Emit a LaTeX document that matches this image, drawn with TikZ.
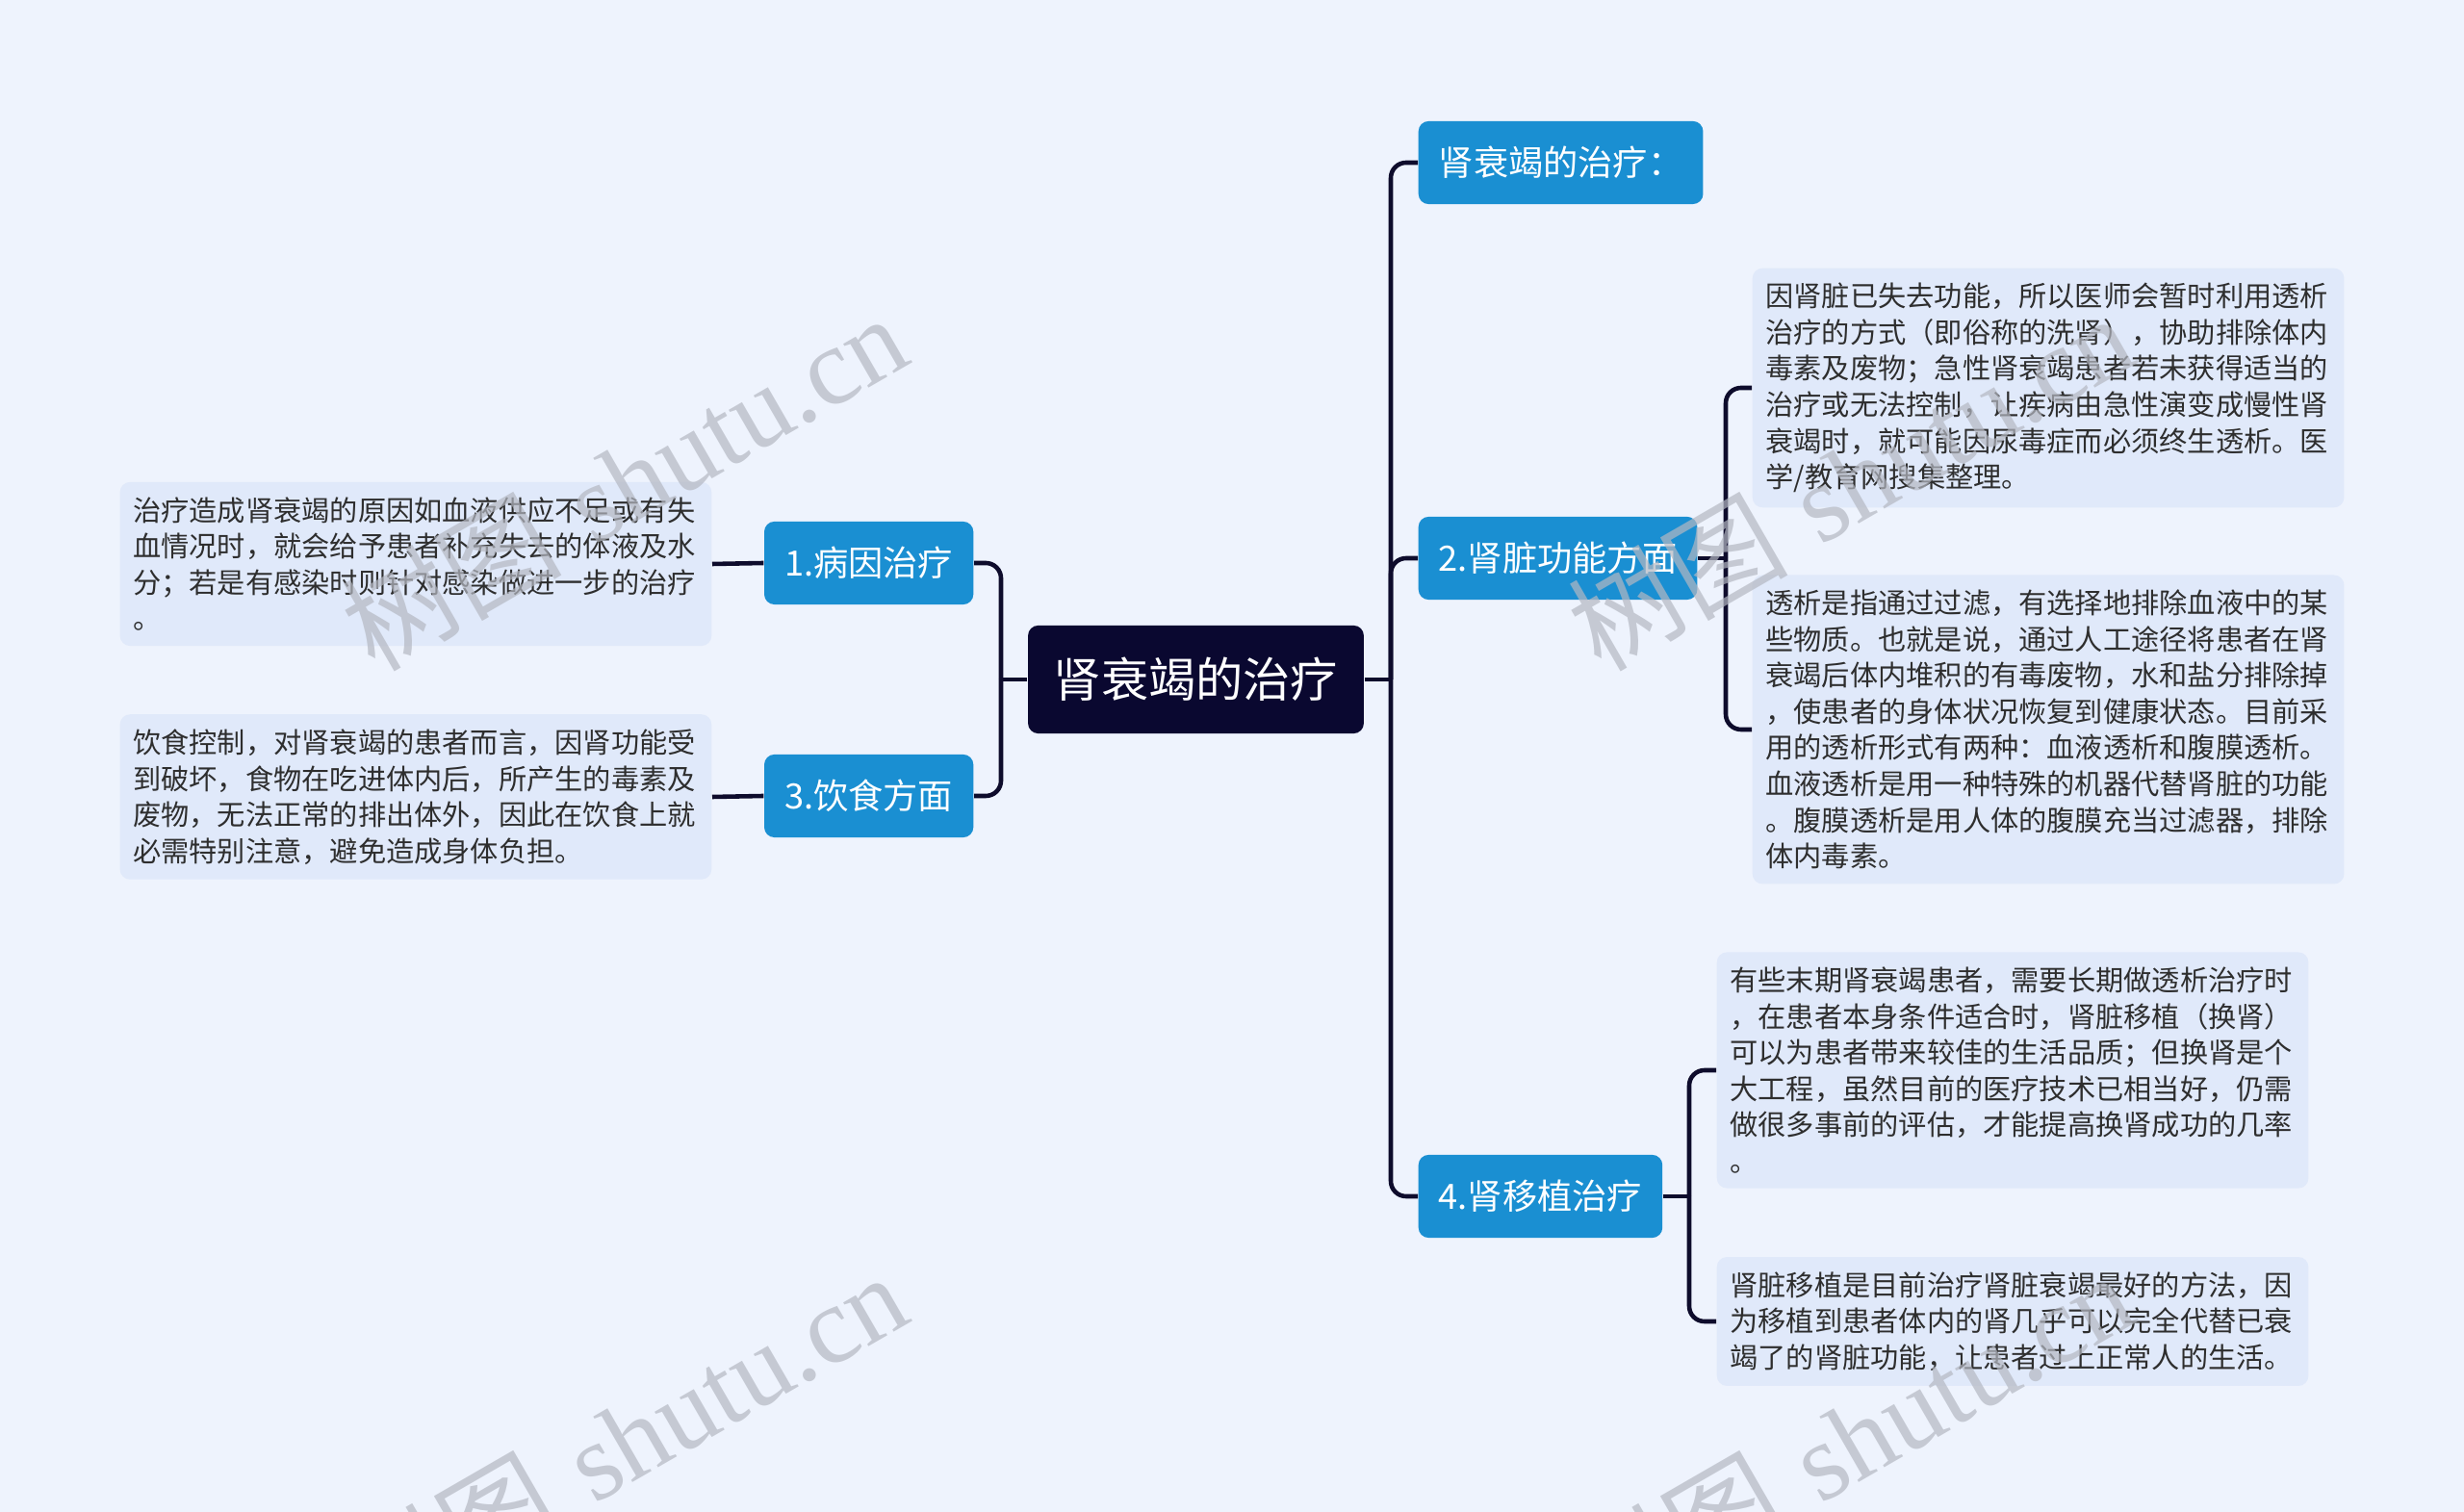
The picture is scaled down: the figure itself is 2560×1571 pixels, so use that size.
\documentclass[tikz,border=0pt]{standalone}
\usepackage{fontspec}
\newfontfamily\cjk{Noto Sans CJK SC}
\newfontfamily\wmlatin{Liberation Serif}
\definecolor{bgcol}{HTML}{EEF3FD}
\definecolor{leafcol}{HTML}{E0E9FA}
\definecolor{leaftext}{HTML}{2E2E2E}
\definecolor{topiccol}{HTML}{1A8FD2}
\definecolor{rootcol}{HTML}{0A0830}
\definecolor{linecol}{HTML}{0E0C2C}
\definecolor{wmcol}{HTML}{B4B8C2}

\tikzset{
  link/.style={draw=linecol, line width=1.3pt, rounded corners=4.5pt},
  rootbox/.style={fill=rootcol, text=white, rounded corners=3pt, inner xsep=7.6pt,
                  minimum height=31.9pt, font=\cjk\fontsize{14pt}{16pt}\selectfont},
  topic/.style={fill=topiccol, text=white, rounded corners=3pt, inner xsep=6pt,
                minimum height=24.5pt, font=\cjk\fontsize{10.3pt}{12pt}\selectfont},
  leaf/.style={fill=leafcol, text=leaftext, rounded corners=3pt, align=left,
               text width=167pt, inner xsep=3.9pt, inner ysep=4.4pt,
               font=\cjk\fontsize{8.31pt}{10.68pt}\selectfont},
  wmtext/.style={text=wmcol, opacity=0.7, rotate=30, font=\fontsize{32.5pt}{34pt}\selectfont}
}

\begin{document}
\begin{tikzpicture}[x=0.01cm, y=-0.01cm]
  % page
  \fill[bgcol] (0,0) rectangle (2560,1571);
  \useasboundingbox (0,0) rectangle (2560,1571);

  % root
  \node[rootbox] (root) at (1242.5,706) {肾衰竭的治疗};

  % topics
  \node[topic, anchor=west] (t0) at (1473,169) {肾衰竭的治疗：};
  \node[topic, anchor=west] (t2) at (1473,580) {2.肾脏功能方面};
  \node[topic, anchor=west] (t4) at (1473,1243) {4.肾移植治疗};
  \node[topic, anchor=east] (t1) at (1012,585) {1.病因治疗};
  \node[topic, anchor=east] (t3) at (1012,827) {3.饮食方面};

  % leaves
  \node[leaf, anchor=east] (cause) at (740,586) {治疗造成肾衰竭的原因如血液供应不足或有失\\血情况时，就会给予患者补充失去的体液及水\\分；若是有感染时则针对感染做进一步的治疗\\。};
  \node[leaf, anchor=east] (diet) at (740,828) {饮食控制，对肾衰竭的患者而言，因肾功能受\\到破坏，食物在吃进体内后，所产生的毒素及\\废物，无法正常的排出体外，因此在饮食上就\\必需特别注意，避免造成身体负担。};
  \node[leaf, anchor=west] (dialysis) at (1820,403) {因肾脏已失去功能，所以医师会暂时利用透析\\治疗的方式（即俗称的洗肾），协助排除体内\\毒素及废物；急性肾衰竭患者若未获得适当的\\治疗或无法控制，让疾病由急性演变成慢性肾\\衰竭时，就可能因尿毒症而必须终生透析。医\\学/教育网搜集整理。};
  \node[leaf, anchor=west] (filter) at (1820,758) {透析是指通过过滤，有选择地排除血液中的某\\些物质。也就是说，通过人工途径将患者在肾\\衰竭后体内堆积的有毒废物，水和盐分排除掉\\，使患者的身体状况恢复到健康状态。目前采\\用的透析形式有两种：血液透析和腹膜透析。\\血液透析是用一种特殊的机器代替肾脏的功能\\。腹膜透析是用人体的腹膜充当过滤器，排除\\体内毒素。};
  \node[leaf, anchor=west] (transplant) at (1783,1112) {有些末期肾衰竭患者，需要长期做透析治疗时\\，在患者本身条件适合时，肾脏移植（换肾）\\可以为患者带来较佳的生活品质；但换肾是个\\大工程，虽然目前的医疗技术已相当好，仍需\\做很多事前的评估，才能提高换肾成功的几率\\。};
  \node[leaf, anchor=west] (best) at (1783,1373) {肾脏移植是目前治疗肾脏衰竭最好的方法，因\\为移植到患者体内的肾几乎可以完全代替已衰\\竭了的肾脏功能，让患者过上正常人的生活。};

  % junctions
  \coordinate (rj) at (1445,706);
  \coordinate (lj) at (1040,706);
  \coordinate (j2) at (1793,580);
  \coordinate (j4) at (1755,1243);

  % connectors
  \draw[link] (root.east) -- (rj);
  \draw[link] (root.west) -- (lj);
  \foreach \t in {t0,t2,t4}
    \draw[link] (rj) |- (\t.west);
  \foreach \t in {t1,t3}
    \draw[link] (lj) |- (\t.east);
  \draw[link] (t1.west) -- (cause.east);
  \draw[link] (t3.west) -- (diet.east);
  \draw[link] (t2.east) -- (j2);
  \draw[link] (j2) |- (dialysis.west);
  \draw[link] (j2) |- (filter.west);
  \draw[link] (t4.east) -- (j4);
  \draw[link] (j4) |- (transplant.west);
  \draw[link] (j4) |- (best.west);

  % watermarks
  \foreach \wx/\wy in {648/500, 648/1496, 1922/500, 1922/1496}
    \node[wmtext] (wm) at (\wx,\wy) {{\cjk 树图} {\wmlatin shutu.cn}};
\end{tikzpicture}
\end{document}
